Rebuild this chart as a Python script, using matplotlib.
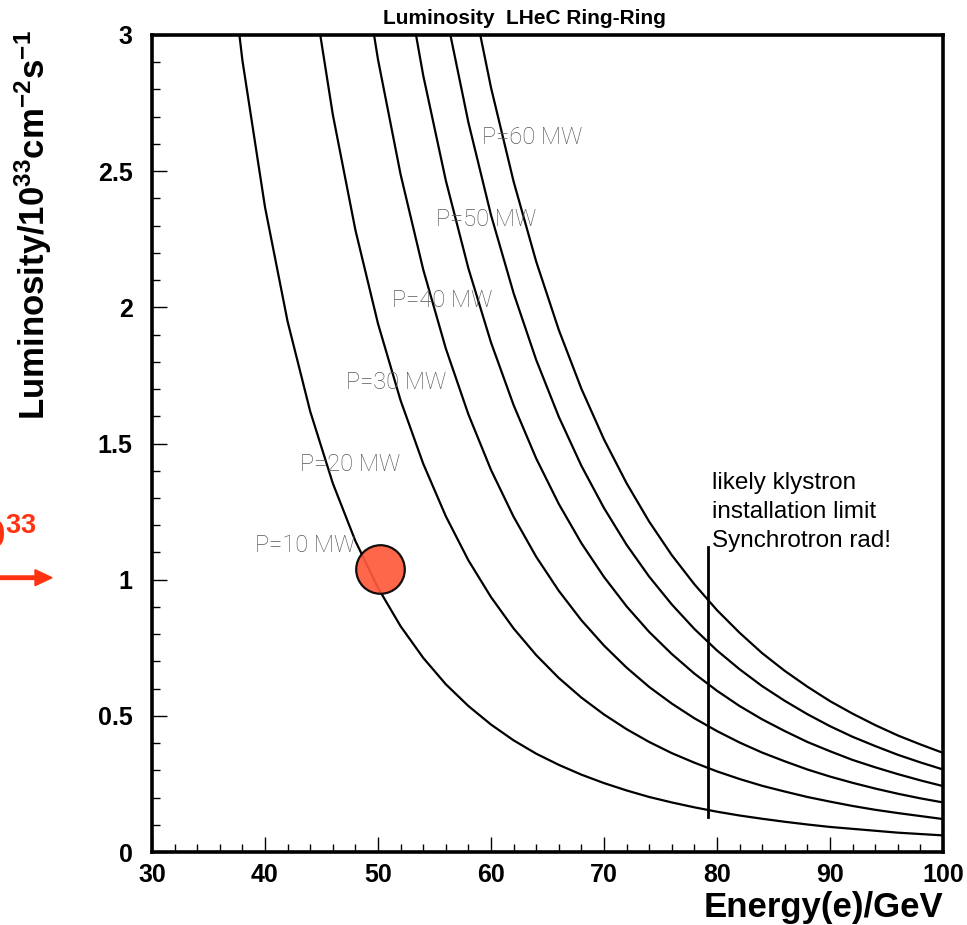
import numpy as np
import matplotlib
matplotlib.use('Agg')
import matplotlib.pyplot as plt
from matplotlib.ticker import MultipleLocator, FixedLocator
from matplotlib.patches import FancyArrow

plt.rcParams['font.family'] = ['Liberation Sans', 'DejaVu Sans']
plt.rcParams['mathtext.fontset'] = 'custom'
plt.rcParams['mathtext.rm'] = 'Liberation Sans:bold'
plt.rcParams['mathtext.bf'] = 'Liberation Sans:bold'
plt.rcParams['mathtext.it'] = 'Liberation Sans:bold'
plt.rcParams['mathtext.default'] = 'rm'

# ---- data ----
energy = [36, 38, 40, 42, 44, 46, 48, 50, 52, 54, 56, 58, 60, 62, 64, 66, 68, 70,
          72, 74, 76, 78, 80, 82, 84, 86, 88, 90, 92, 94, 96, 98, 100]

lumi_p10 = [3.610, 2.907, 2.368, 1.948, 1.618, 1.354, 1.142, 0.970, 0.829, 0.713,
            0.616, 0.536, 0.468, 0.410, 0.361, 0.320, 0.284, 0.253, 0.226, 0.202,
            0.182, 0.164, 0.148, 0.134, 0.122, 0.111, 0.101, 0.092, 0.085, 0.078,
            0.071, 0.066, 0.061]
lumi_p20 = [3.235, 2.708, 2.284, 1.940, 1.658, 1.426, 1.233, 1.071, 0.936, 0.821,
            0.723, 0.639, 0.567, 0.505, 0.451, 0.404, 0.363, 0.328, 0.296, 0.268,
            0.243, 0.222, 0.202, 0.185, 0.169, 0.155, 0.143, 0.132, 0.121]
lumi_p30 = [3.426, 2.910, 2.488, 2.139, 1.849, 1.607, 1.403, 1.231, 1.084, 0.959,
            0.851, 0.758, 0.677, 0.606, 0.545, 0.491, 0.444, 0.402, 0.365, 0.333,
            0.303, 0.277, 0.254, 0.233, 0.214, 0.197, 0.182]
lumi_p40 = [3.317, 2.852, 2.466, 2.143, 1.871, 1.641, 1.445, 1.278, 1.134, 1.010,
            0.902, 0.808, 0.727, 0.655, 0.592, 0.536, 0.487, 0.444, 0.404, 0.370,
            0.338, 0.311, 0.286, 0.263, 0.242]
lumi_p50 = [3.565, 3.082, 2.679, 2.339, 2.052, 1.807, 1.598, 1.418, 1.263, 1.128,
            1.011, 0.909, 0.819, 0.740, 0.671, 0.609, 0.555, 0.506, 0.462, 0.423,
            0.389, 0.357, 0.329, 0.303]
lumi_p60 = [3.214, 2.807, 2.462, 2.168, 1.917, 1.701, 1.515, 1.354, 1.213, 1.090,
            0.983, 0.888, 0.805, 0.730, 0.665, 0.607, 0.554, 0.508, 0.466, 0.428,
            0.395, 0.364]

power_labels = ["P=10 MW", "P=20 MW", "P=30 MW", "P=40 MW", "P=50 MW", "P=60 MW"]
label_energy = [39.1, 43.1, 47.2, 51.2, 55.1, 59.2]
label_lumi = [1.10, 1.40, 1.70, 2.00, 2.30, 2.60]

point_energy = [50.2]
point_lumi = [1.04]

limit_energy = [79.2, 79.2]
limit_lumi = [0.128, 1.12]

x_ticks = [30, 40, 50, 60, 70, 80, 90, 100]
y_ticks = [0, 0.5, 1, 1.5, 2, 2.5, 3]
y_tick_labels = ["0", "0.5", "1", "1.5", "2", "2.5", "3"]

# ---- figure ----
W, H = 967, 925
fig = plt.figure(figsize=(W / 100, H / 100), dpi=100)
fig.patch.set_facecolor('white')
ax = fig.add_axes([152 / W, 1 - 852 / H, 791 / W, 817 / H])

curves = [lumi_p10, lumi_p20, lumi_p30, lumi_p40, lumi_p50, lumi_p60]
for vals in curves:
    e = energy[-len(vals):]
    ax.plot(e, vals, color='black', lw=1.6, solid_joinstyle='round', zorder=2)

for txt, ex, ly in zip(power_labels, label_energy, label_lumi):
    ax.text(ex, ly, txt, fontsize=17, color='#585858', family=['Roboto', 'DejaVu Sans'],
            fontweight='light', ha='left', va='baseline', zorder=3)

ax.plot(point_energy, point_lumi, 'o', markersize=35, markerfacecolor='#FF5A3C',
        markeredgecolor='black', markeredgewidth=1.6, alpha=0.92, zorder=4)

ax.plot(limit_energy, limit_lumi, color='black', lw=2.0, zorder=3)
ax.text(79.55, 1.12, "likely klystron\ninstallation limit\nSynchrotron rad!",
        fontsize=17.5, color='black', ha='left', va='baseline', linespacing=1.42,
        zorder=3)

ax.set_xlim(30, 100)
ax.set_ylim(0, 3)
ax.xaxis.set_major_locator(FixedLocator(x_ticks))
ax.xaxis.set_minor_locator(MultipleLocator(2))
ax.yaxis.set_major_locator(FixedLocator(y_ticks))
ax.yaxis.set_minor_locator(MultipleLocator(0.1))
ax.set_yticklabels(y_tick_labels)
ax.tick_params(which='both', direction='in', top=False, right=False, colors='black')
ax.tick_params(which='major', length=11, width=1.0)
ax.tick_params(which='minor', length=5.5, width=1.0)
ax.tick_params(axis='x', which='major', pad=8, labelsize=18)
ax.tick_params(axis='y', which='major', pad=14, labelsize=18)
for lab in ax.get_xticklabels() + ax.get_yticklabels():
    lab.set_fontweight('bold')
for sp in ax.spines.values():
    sp.set_linewidth(2.6)

# title and axis labels
fig.text(524 / W, 1 - 18 / H, "Luminosity  LHeC Ring-Ring", fontsize=15,
         fontweight='bold', ha='center', va='center')
fig.text(943 / W, 1 - 917 / H, "Energy(e)/GeV", fontsize=25, fontweight='bold',
         ha='right', va='baseline')
fig.text(33 / W, 1 - 225 / H,
         r"$\mathrm{Luminosity/10^{33}cm^{-2}s^{-1}}$",
         fontsize=25, rotation=90, ha='center', va='center')

# red annotation at the left margin (partly cut off, as in the reference)
fig.text(37 / W, 1 - 548 / H, r"$\mathrm{10^{33}}$", fontsize=28, color='#FF3311',
         ha='right', va='baseline')
fig.patches.append(FancyArrow(0.0, 1 - 577.7 / H, 52 / W, 0.0, width=3.5 / H,
                              head_width=16 / H, head_length=17 / W,
                              length_includes_head=True, color='#FF3311',
                              transform=fig.transFigure, figure=fig))

fig.savefig('out.png', dpi=100, facecolor='white')
